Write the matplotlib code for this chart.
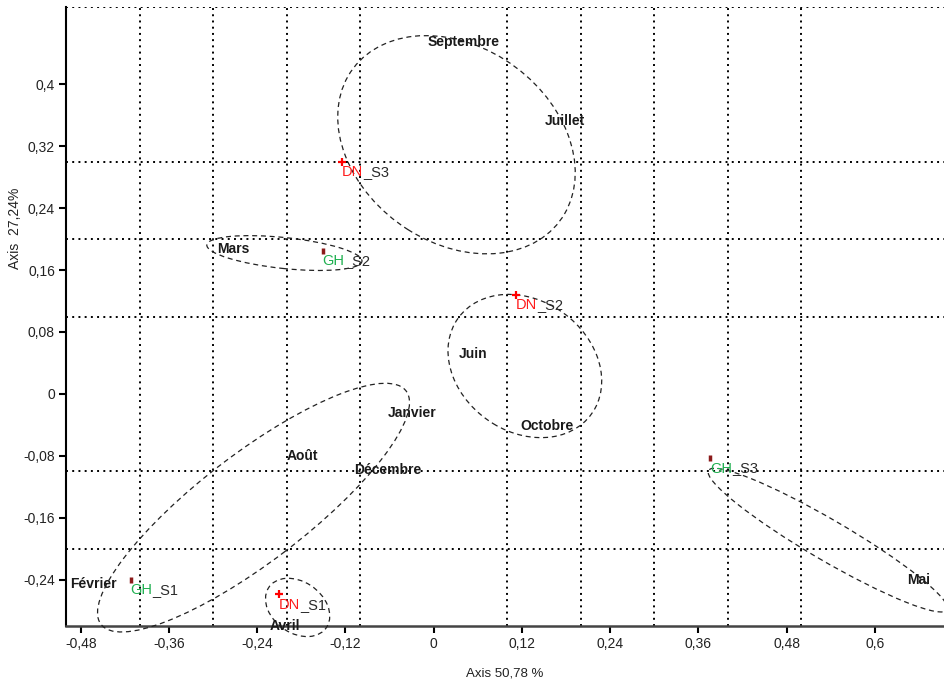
import matplotlib
matplotlib.use('Agg')
import matplotlib.pyplot as plt
from matplotlib.patches import Ellipse
from matplotlib.ticker import FixedLocator

plt.rcParams['font.family'] = ['Liberation Sans', 'DejaVu Sans']

# months (column points)
months = ['Septembre', 'Juillet', 'Mars', 'Juin', 'Octobre', 'Janvier',
          'Août', 'Décembre', 'Février', 'Avril', 'Mai']
month_x = [0.041, 0.178, -0.273, 0.054, 0.154, -0.029, -0.178, -0.062, -0.463, -0.202, 0.659]
month_y = [0.455, 0.353, 0.187, 0.052, -0.041, -0.025, -0.080, -0.098, -0.246, -0.300, -0.240]

# sites (row points)
sites = ['DN_S3', 'GH_S2', 'DN_S2', 'GH_S3', 'GH_S1', 'DN_S1']
site_x = [-0.125, -0.151, 0.112, 0.376, -0.412, -0.211]
site_y = [0.300, 0.185, 0.128, -0.083, -0.240, -0.259]

# confidence ellipses: centre, width, height, angle
ell_cx = [0.031, -0.203, 0.124, -0.245, -0.185, 0.536]
ell_cy = [0.322, 0.182, 0.036, -0.147, -0.276, -0.189]
ell_w = [0.344, 0.212, 0.220, 0.513, 0.094, 0.371]
ell_h = [0.256, 0.040, 0.172, 0.142, 0.067, 0.053]
ell_ang = [-31, -5.7, -30, 35.8, -31.6, -29]

xticks = [-0.48, -0.36, -0.24, -0.12, 0, 0.12, 0.24, 0.36, 0.48, 0.6]
xticklabels = ['-0,48', '-0,36', '-0,24', '-0,12', '0', '0,12', '0,24', '0,36', '0,48', '0,6']
yticks = [0.4, 0.32, 0.24, 0.16, 0.08, 0, -0.08, -0.16, -0.24]
yticklabels = ['0,4', '0,32', '0,24', '0,16', '0,08', '0', '-0,08', '-0,16', '-0,24']
xgrid = [-0.4, -0.3, -0.2, -0.1, 0, 0.1, 0.2, 0.3, 0.4, 0.5, 0.6]
ygrid = [-0.2, -0.1, 0, 0.1, 0.2, 0.3, 0.4, 0.5]

fig = plt.figure(figsize=(9.44, 6.84), dpi=100)
ax = fig.add_axes([66 / 944, 58 / 684, 1 - 66 / 944, 619 / 684])
ax.set_xlim(-0.5, 0.694)
ax.set_ylim(-0.3, 0.5)

ax.set_xticks(xticks)
ax.set_xticklabels(xticklabels)
ax.set_yticks(yticks)
ax.set_yticklabels(yticklabels)
ax.xaxis.set_minor_locator(FixedLocator(xgrid))
ax.yaxis.set_minor_locator(FixedLocator(ygrid))
ax.tick_params(which='minor', length=0)
ax.tick_params(which='major', direction='out', length=5, width=1.5,
               labelsize=10, labelcolor='#222222', pad=3)
ax.grid(which='minor', color='black', linestyle=(0, (1, 2.2)), linewidth=1.4)
ax.grid(which='major', visible=False)
ax.set_axisbelow(True)

for s in ['top', 'right']:
    ax.spines[s].set_visible(False)
ax.spines['left'].set_linewidth(1.5)
ax.spines['bottom'].set_linewidth(1.8)
ax.spines['bottom'].set_color('#444444')

for cx, cy, w, h, a in zip(ell_cx, ell_cy, ell_w, ell_h, ell_ang):
    e = Ellipse((cx, cy), w, h, angle=a, fill=False, edgecolor='#222222',
                linestyle=(0, (4, 3)), linewidth=0.9, clip_on=False, zorder=3)
    ax.add_patch(e)

for m, x, y in zip(months, month_x, month_y):
    ax.text(x, y, m, ha='center', va='center', fontsize=10, fontweight='bold',
            color='#1a1a1a', zorder=5, clip_on=False)

for name, x, y in zip(sites, site_x, site_y):
    pre, suf = name.split('_')
    if pre == 'DN':
        ax.plot(x, y, marker='+', color='red', markersize=6, mew=1.6, zorder=4)
        col = '#ff1a1a'
    else:
        ax.plot(x, y, marker='|', color='#8b1a1a', markersize=4, mew=2.5, zorder=4)
        col = '#1fb050'
    t1 = ax.annotate(pre, xy=(x, y), xytext=(0, -7.5), textcoords='offset points',
                     ha='left', va='center', fontsize=10.5, color=col, zorder=5)
    ax.annotate('_' + suf, xy=(1, 0), xycoords=t1, ha='left', va='bottom',
                fontsize=10.5, color='#2a2a2a', zorder=5)

ax.set_xlabel('Axis 50,78 %', fontsize=9.5, color='#222222', labelpad=12)
ax.set_ylabel('Axis  27,24%', fontsize=10, color='#222222')
ax.yaxis.set_label_coords(-0.050, 0.643)

fig.savefig('out.png', dpi=100)
